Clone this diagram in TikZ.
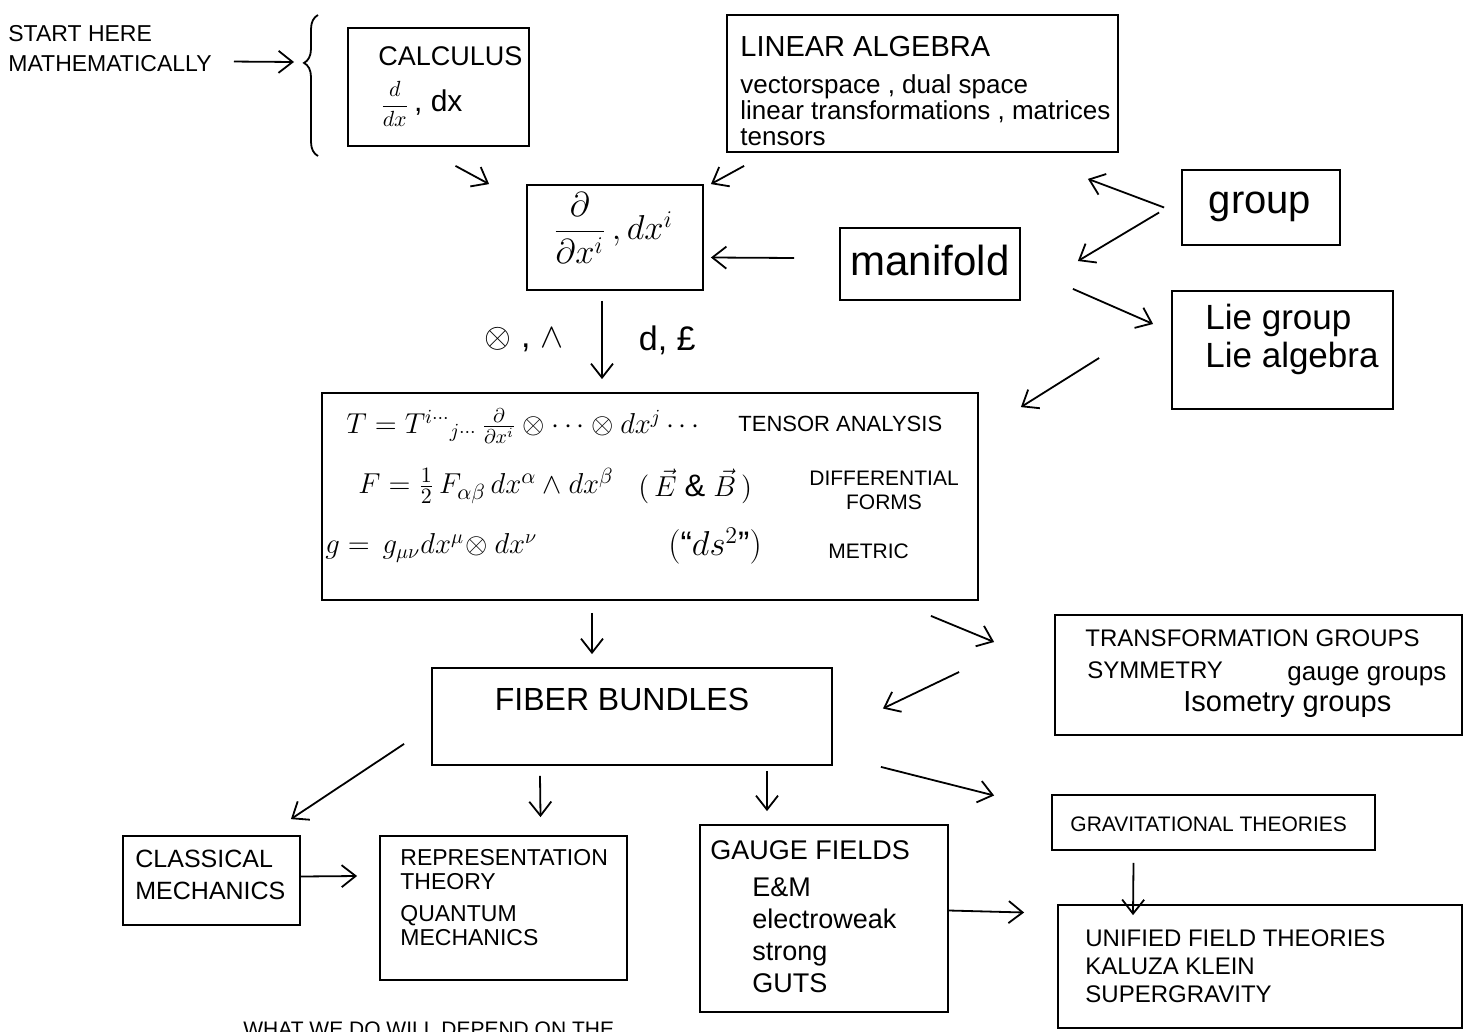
\documentclass[tikz,border=0pt]{standalone}
\usepackage{amsmath}
\usepackage{fontspec}
\setmainfont{Liberation Sans}
\usetikzlibrary{positioning, arrows.meta, fit, decorations.pathreplacing}

\newcommand{\fsz}[2]{\fontsize{#1pt}{#2pt}\selectfont}

\begin{document}
\begin{tikzpicture}[x=0.5pt, y=-0.5pt,
    box/.style={rectangle, draw, line width=0.9pt, inner sep=0pt},
    note/.style={anchor=north west, align=left, inner sep=0pt},
    lbl/.style={inner sep=0pt},
    arr/.style={-{Straight Barb[length=7pt,width=11pt]}, line width=0.9pt}
]
\clip (0,0) rectangle (1476,1032);

% boxes
\node[box, fit={(348,28) (529,146)}]    (calc)  {};
\node[box, fit={(727,15) (1118,152)}]   (linalg) {};
\node[box, fit={(527,185) (703,290)}]   (pd)    {};
\node[box, fit={(840,228) (1020,300)}]  (mfd)   {};
\node[box, fit={(1182,170) (1340,245)}] (grp)   {};
\node[box, fit={(1172,291) (1393,409)}] (lie)   {};
\node[box, fit={(322,393) (978,600)}]   (tens)  {};
\node[box, fit={(432,668) (832,765)}]   (fiber) {};
\node[box, fit={(1055,615) (1462,735)}] (trans) {};
\node[box, fit={(123,836) (300,925)}]   (clas)  {};
\node[box, fit={(380,836) (627,980)}]   (rep)   {};
\node[box, fit={(700,825) (948,1012)}]  (gauge) {};
\node[box, fit={(1052,795) (1375,850)}] (grav)  {};
\node[box, fit={(1058,905) (1462,1028)}] (unif) {};

% texts
\node[note, font=\fsz{11.5}{15}] (start) at (8,25) {START HERE\\MATHEMATICALLY};
\node[note, font=\fsz{13.5}{13.5}] (calctitle) at (378,46) {CALCULUS};
\node[lbl, anchor=west, font=\fsz{15}{15}] (calcform) at (380,104)
    {{\fsz{11}{11}$\dfrac{d}{dx}$}\,, dx};
\node[note, font=\fsz{14.5}{14.5}] (latitle) at (740,36) {LINEAR ALGEBRA};
\node[note, font=\fsz{13}{13}] (labody) at (740,74)
    {vectorspace , dual space\\linear transformations , matrices\\tensors};
\node[lbl, font=\fsz{17}{17}] (pdform) at (613,228)
    {$\dfrac{\partial}{\partial x^i}\,, dx^i$};
\node[lbl, font=\fsz{21}{21}] (mfdtxt) at (930,260) {manifold};
\node[lbl, font=\fsz{20}{20}] (grptxt) at (1260,207) {group};
\node[note, font=\fsz{17.5}{19}] (lietxt) at (1205,304) {Lie group\\Lie algebra};

\node[lbl, anchor=west, font=\fsz{14}{14}] (tensA) at (346,426)
    {$T = T^{i\cdots}{}_{j\cdots}\,\frac{\partial}{\partial x^i}\otimes\cdots\otimes dx^j\cdots$};
\node[lbl, anchor=west, font=\fsz{11}{11}] (tensAlbl) at (738,424) {TENSOR ANALYSIS};
\node[lbl, anchor=west, font=\fsz{15}{15}] (formB) at (358,486)
    {$F = \tfrac{1}{2}\,F_{\alpha\beta}\,dx^\alpha\wedge dx^\beta$};
\node[lbl, anchor=west, font=\fsz{15.5}{15.5}] (formBpar) at (638,486)
    {$(\,\vec{E}\;\&\;\vec{B}\,)$};
\node[lbl, align=center, font=\fsz{10.5}{12}] (formBlbl) at (884,490) {DIFFERENTIAL\\FORMS};
\node[lbl, anchor=west, font=\fsz{14}{14}] (metC) at (325,548)
    {$g = \,g_{\mu\nu}dx^\mu\!\otimes dx^\nu$};
\node[lbl, anchor=west, font=\fsz{17}{17}] (metCpar) at (668,546) {$(\text{``}ds^2\text{''})$};
\node[lbl, anchor=west, font=\fsz{10.5}{10.5}] (metClbl) at (828,551) {METRIC};

\node[lbl, font=\fsz{16}{16}] (fibertxt) at (622,699) {FIBER BUNDLES};
\node[note, font=\fsz{12}{12}] (transtitle) at (1085,629) {TRANSFORMATION GROUPS};
\node[note, font=\fsz{12}{12}] (symm) at (1087,661) {SYMMETRY};
\node[note, font=\fsz{13}{13}] (gaugegrp) at (1287,666) {gauge groups};
\node[note, font=\fsz{14.5}{14.5}] (isogrp) at (1183,691) {Isometry groups};

\node[note, font=\fsz{12.5}{16}] (clastxt) at (135,850) {CLASSICAL\\MECHANICS};
\node[note, font=\fsz{11.5}{12}] (reptxt) at (400,849)
    {REPRESENTATION\\THEORY\\[4pt]QUANTUM\\MECHANICS};
\node[note, font=\fsz{13.5}{13.5}] (gaugetitle) at (710,840) {GAUGE FIELDS};
\node[note, font=\fsz{13.5}{16}] (gaugebody) at (752,877) {E\&M\\electroweak\\strong\\GUTS};
\node[note, font=\fsz{10.5}{10.5}] (gravtxt) at (1070,816) {GRAVITATIONAL THEORIES};
\node[note, font=\fsz{12}{14}] (uniftxt) at (1085,929)
    {UNIFIED FIELD THEORIES\\KALUZA KLEIN\\SUPERGRAVITY};
\node[note, font=\fsz{10.5}{10.5}] (bottomnote) at (243,1021) {WHAT WE DO WILL DEPEND ON THE};

% brace in front of calculus
\coordinate (bracebot) at (318,156);
\coordinate (bracetop) at (318,15);
\coordinate (bracetip) at (294,62);
\draw[line width=0.9pt, decorate, decoration={brace, amplitude=7pt, aspect=0.66}]
    (bracebot) -- (bracetop);

% connectors
\draw[arr] ([shift={(22,13)}]start.east) -- (bracetip);
\draw[arr] ([shift={(17,19)}]calc.south) -- ([shift={(-37,0)}]pd.north west);
\draw[arr] ([shift={(18,13)}]linalg.south west) -- ([shift={(7,0)}]pd.north east);
\draw[arr] ([shift={(-45,-6)}]mfd.west) -- ([shift={(7,20)}]pd.east);
\draw[arr] ([shift={(-17,0)}]grp.west) -- ([shift={(-31,26)}]linalg.south east);
\draw[arr] ([shift={(-22,5)}]grp.west) -- ([shift={(57,-3)}]mfd.east);
\draw[arr] ([shift={(52,-12)}]mfd.south east) -- ([shift={(-18,-26)}]lie.west);
\draw[arr] ([shift={(-72,8)}]lie.west) -- ([shift={(42,15)}]tens.north east);
\draw[arr] ([shift={(-13,10)}]pd.south) --
    node[left=19pt, lbl, font=\fsz{17}{17}] {$\otimes$ , $\wedge$}
    node[right=18pt, lbl, font=\fsz{17}{17}] {d, £}
    ([shift={(-48,-13)}]tens.north);
\draw[arr] ([shift={(-58,12)}]tens.south) -- ([shift={(-40,-13)}]fiber.north);
\draw[arr] ([shift={(-48,15)}]tens.south east) -- ([shift={(-60,-33)}]trans.west);
\draw[arr] ([shift={(-95,-3)}]trans.west) -- ([shift={(50,-8)}]fiber.east);
\draw[arr] ([shift={(-27,-22)}]fiber.south west) -- ([shift={(-10,-16)}]clas.north east);
\draw[arr] ([shift={(-92,10)}]fiber.south) -- ([shift={(37,-18)}]rep.north);
\draw[arr] ([shift={(135,5)}]fiber.south) -- ([shift={(-57,-13)}]gauge.north);
\draw[arr] ([shift={(48,1)}]fiber.south east) -- ([shift={(-57,-27)}]grav.west);
\draw[arr] ([shift={(0,-4)}]clas.east) -- ([shift={(-22,-32)}]rep.west);
\draw[arr] ([shift={(0,-8)}]gauge.east) -- ([shift={(-33,-54)}]unif.west);
\draw[arr] ([shift={(-80,12)}]grav.south) -- ([shift={(-127,11)}]unif.north);

\end{tikzpicture}
\end{document}
